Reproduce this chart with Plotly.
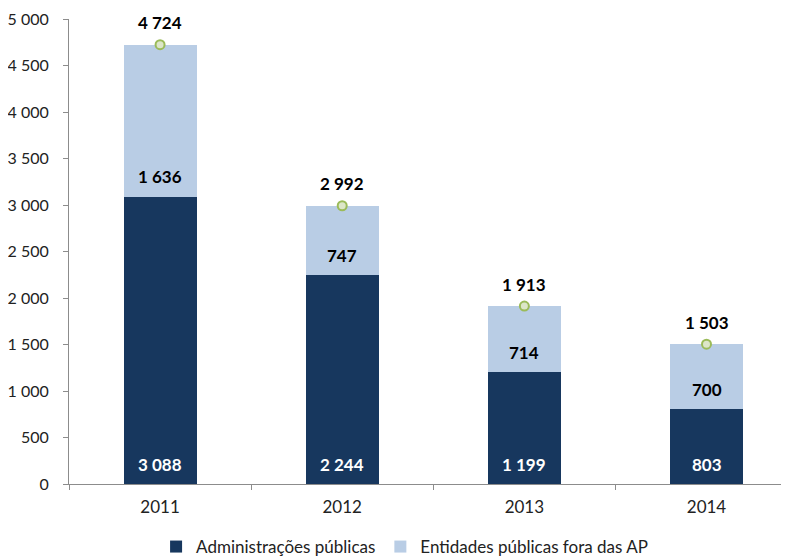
import plotly.graph_objects as go

years = ["2011", "2012", "2013", "2014"]
admin_publicas = [3088, 2244, 1199, 803]
entidades_fora_ap = [1636, 747, 714, 700]
totais = [4724, 2992, 1913, 1503]
y_ticks = [0, 500, 1000, 1500, 2000, 2500, 3000, 3500, 4000, 4500, 5000]

FONT = "Lato"
DARK = "#17375E"
LIGHT = "#B9CDE5"


def fmt(v):
    return f"{v:,d}".replace(",", " ")


fig = go.Figure()
fig.add_trace(go.Bar(
    x=years, y=admin_publicas, name="Administrações públicas",
    marker=dict(color=DARK, line=dict(width=0)), width=0.4,
))
fig.add_trace(go.Bar(
    x=years, y=entidades_fora_ap, name="Entidades públicas fora das AP",
    marker=dict(color=LIGHT, line=dict(width=0)), width=0.4,
))
fig.add_trace(go.Scatter(
    x=years, y=totais, mode="markers", showlegend=False,
    marker=dict(symbol="circle", size=9, color="#DCE6C8", line=dict(color="#9BBB59", width=2)),
    cliponaxis=False,
))

label_font = dict(size=17, family=FONT, weight="bold")
for i, (a, e, t) in enumerate(zip(admin_publicas, entidades_fora_ap, totais)):
    fig.add_annotation(x=i, y=0, text=fmt(a), showarrow=False, yshift=20,
                       font=dict(color="white", **label_font))
    fig.add_annotation(x=i, y=a, text=fmt(e), showarrow=False, yshift=20,
                       font=dict(color="black", **label_font))
    fig.add_annotation(x=i, y=t, text=fmt(t), showarrow=False, yshift=22,
                       font=dict(color="black", **label_font))

fig.update_layout(
    barmode="stack",
    width=789, height=557,
    margin=dict(l=61, r=14, t=11, b=81),
    paper_bgcolor="white", plot_bgcolor="white",
    separators=", ",
    font=dict(family=FONT, size=16, color="#222222"),
    showlegend=True,
    legend=dict(orientation="h", x=0.47, xanchor="center",
                yref="container", y=0.0, yanchor="bottom",
                font=dict(size=17, family=FONT, color="#222222"),
                traceorder="normal"),
    xaxis=dict(
        type="category",
        range=[-0.5, 3.42], showgrid=False, showline=True, linecolor="#8C8C8C", linewidth=1,
        ticks="outside", ticklen=5, tickcolor="#8C8C8C", tickson="boundaries",
        tickfont=dict(size=17, family=FONT, color="#222222"),
        ticklabelstandoff=8, automargin=False,
    ),
    yaxis=dict(
        range=[0, 5000], tickvals=y_ticks, tickformat=",d", showgrid=False,
        showline=True, linecolor="#8C8C8C", linewidth=1,
        ticks="outside", ticklen=5, tickcolor="#8C8C8C",
        tickfont=dict(size=16, family=FONT, color="#222222"),
        ticklabelstandoff=11, zeroline=False, automargin=False,
        ticklabeloverflow="allow",
    ),
)

fig.write_html("out.html")
